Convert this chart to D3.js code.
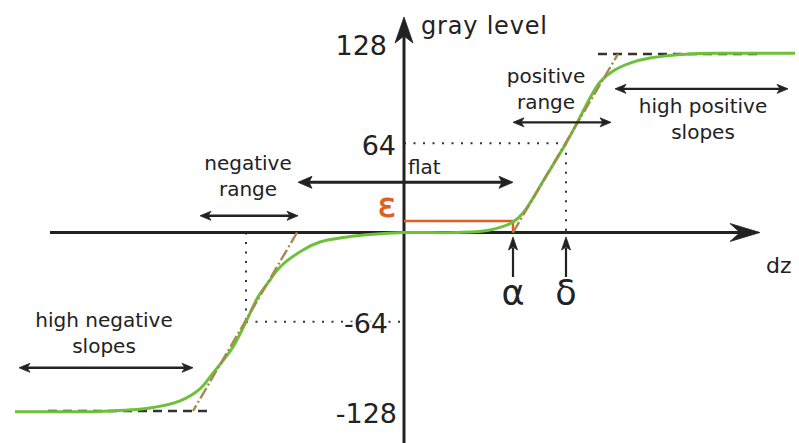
<!DOCTYPE html>
<html>
<head>
<meta charset="utf-8">
<script src="https://cdn.jsdelivr.net/npm/d3@7"></script>
<style>
  html, body { margin: 0; padding: 0; background: #fff; }
  svg { display: block; }
  text { font-family: "DejaVu Sans", sans-serif; fill: #222; }
</style>
</head>
<body>
<div id="chart"></div>
<script>
// ---- data (dz in arbitrary units, gray level in [-128,128]) ----
const curveDz   = [-97.25, -88.5, -76, -63.5, -56, -51, -47.75, -42.75, -39.5, -36.5, -33.5, -31, -25.25, -21, -14.25, -8.5, 0, 13.25, 21.5, 27.25, 29.75, 35.25, 40.5, 43.25, 46.5, 49, 52.25, 56.5, 61.5, 71.5, 79, 97.75];
const curveGray = [-128.5, -128.5, -128.3, -125.9, -120.8, -112.2, -100.8, -82.1, -64, -46.3, -34.1, -24.7, -12.5, -6.8, -3.2, -1.4, 0, 0, 1.8, 7.5, 14, 39.1, 64, 78.5, 96.5, 107.9, 115.8, 121.5, 125.1, 128, 128.5, 128.5];

const tickValues = [128, 64, -64, -128];
const tickLabels = ["128", "64", "-64", "-128"];

const alpha = 27.25, delta = 40.5, epsilon = 8.2, negDelta = -39.5;
const posTangent = [[27.25, 0], [53.5, 128]];
const negTangent = [[-26.75, 0], [-52.75, -128]];
const topPlateau = [[48.5, 128], [88.25, 128]];
const botPlateau = [[-89, -128], [-49.25, -128]];

const rangeLabels = [
  {lines: ["negative", "range"], dz: -39, gray: 45},
  {lines: ["positive", "range"], dz: 35.5, gray: 107},
  {lines: ["high positive", "slopes"], dz: 74.75, gray: 86},
  {lines: ["high negative", "slopes"], dz: -75, gray: -68},
];
const rangeArrows = [
  {from: -51, to: -26.5, gray: 12},       // negative range
  {from: -26.5, to: 27.25, gray: 36},     // flat
  {from: 27.25, to: 51.75, gray: 79},     // positive range
  {from: 52.75, to: 96, gray: 103},       // high positive slopes
  {from: -96.25, to: -52.75, gray: -97},  // high negative slopes
];

// ---- layout ----
const W = 799, H = 443;
const x = d3.scaleLinear().domain([-100, 100]).range([4, 804]);
const y = d3.scaleLinear().domain([-128, 128]).range([411, 54]);

const svg = d3.select("#chart").append("svg").attr("width", W).attr("height", H);

function arrowHead(g, tipX, tipY, angle, len, half, notch, color) {
  const c = Math.cos(angle), s = Math.sin(angle);
  const pt = (a, b) => [tipX + a * c - b * s, tipY + a * s + b * c];
  const p = [pt(0, 0), pt(-len, -half), pt(-len + notch, 0), pt(-len, half)];
  g.append("path").attr("d", "M" + p.map(q => q.join(",")).join("L") + "Z")
    .attr("fill", color).attr("stroke", color).attr("stroke-width", 0.8).attr("stroke-linejoin", "miter");
}

const line = d3.line().x(d => x(d[0])).y(d => y(d[1]));

// dotted guides
const dotted = [
  [[0, 64], [delta, 64]], [[delta, 64], [delta, 0]],
  [[negDelta, 0], [negDelta, -64]], [[negDelta, -64], [0, -64]]
];
svg.append("g").selectAll("path").data(dotted).join("path")
  .attr("d", line).attr("fill", "none").attr("stroke", "#333")
  .attr("stroke-width", 2).attr("stroke-dasharray", "2,7.5");

// dashed plateaus
svg.append("g").selectAll("path").data([topPlateau, botPlateau]).join("path")
  .attr("d", line).attr("fill", "none").attr("stroke", "#333")
  .attr("stroke-width", 2.6).attr("stroke-dasharray", "9,6");

// axes
const axisColor = "#222";
const ax = svg.append("g");
ax.append("line").attr("x1", x(-88.5)).attr("x2", x(87)).attr("y1", y(0)).attr("y2", y(0))
  .attr("stroke", axisColor).attr("stroke-width", 3);
arrowHead(ax, x(89), y(0), 0, 30, 9, 10, axisColor);
ax.append("line").attr("x1", x(0)).attr("x2", x(0)).attr("y1", H).attr("y2", 30)
  .attr("stroke", axisColor).attr("stroke-width", 3);
arrowHead(ax, x(0), 17, -Math.PI / 2, 26, 9, 7, axisColor);

// epsilon bracket
svg.append("path")
  .attr("d", line([[0, epsilon], [alpha, epsilon], [alpha, 0]]))
  .attr("fill", "none").attr("stroke", "#dd5f22").attr("stroke-width", 2.4);

// green curve
svg.append("path")
  .datum(curveDz.map((d, i) => [d, curveGray[i]]))
  .attr("d", d3.line().x(d => x(d[0])).y(d => y(d[1])).curve(d3.curveCatmullRom.alpha(0.5)))
  .attr("fill", "none").attr("stroke", "#6cc13a").attr("stroke-width", 3);

// tangent dash-dot lines
svg.append("g").selectAll("path").data([posTangent, negTangent]).join("path")
  .attr("d", line).attr("fill", "none").attr("stroke", "#a48a4c")
  .attr("stroke-width", 2.4).attr("stroke-dasharray", "12,3,2,3");

// tick labels
const tickDx = {"128": 387, "64": 396, "-64": 388, "-128": 397};
const tickDy = {"128": 1, "64": 12, "-64": 11, "-128": 12};
svg.append("g").selectAll("text").data(tickValues).join("text")
  .attr("x", (d, i) => tickDx[tickLabels[i]])
  .attr("y", (d, i) => y(d) + tickDy[tickLabels[i]])
  .attr("text-anchor", "end").attr("font-size", 27)
  .attr("stroke", "#fff").attr("stroke-width", 5).attr("paint-order", "stroke")
  .text((d, i) => tickLabels[i]);

// axis labels
svg.append("text").attr("x", 421).attr("y", 34).attr("font-size", 24)
  .attr("letter-spacing", 0.8).text("gray level");
svg.append("text").attr("x", 766).attr("y", 273).attr("font-size", 22).text("dz");

// range labels
const rl = svg.append("g");
rangeLabels.forEach(r => {
  r.lines.forEach((t, k) => {
    rl.append("text").attr("x", x(r.dz)).attr("y", y(r.gray) + k * 26)
      .attr("text-anchor", "middle").attr("font-size", 20).text(t);
  });
});
svg.append("text").attr("x", 408).attr("y", 174).attr("font-size", 20).text("flat");

// double arrows
const da = svg.append("g");
rangeArrows.forEach((a, i) => {
  const big = i === 1;
  const len = big ? 14 : 11, half = big ? 6 : 4.5;
  da.append("line").attr("x1", x(a.from) + 4).attr("x2", x(a.to) - 4)
    .attr("y1", y(a.gray)).attr("y2", y(a.gray))
    .attr("stroke", "#222").attr("stroke-width", big ? 3 : 2.4);
  arrowHead(da, x(a.to), y(a.gray), 0, len, half, 3, "#222");
  arrowHead(da, x(a.from), y(a.gray), Math.PI, len, half, 3, "#222");
});

// alpha / delta markers
const markers = [{dz: alpha, label: "α"}, {dz: delta, label: "δ"}];
markers.forEach(m => {
  svg.append("line").attr("x1", x(m.dz)).attr("x2", x(m.dz)).attr("y1", 248).attr("y2", 277)
    .attr("stroke", "#222").attr("stroke-width", 2.2);
  arrowHead(svg, x(m.dz), 237, -Math.PI / 2, 13, 4.5, 3, "#222");
  svg.append("text").attr("x", x(m.dz)).attr("y", 305).attr("text-anchor", "middle")
    .attr("font-size", 35).text(m.label);
});

// epsilon label
svg.append("text").attr("x", 387).attr("y", 217).attr("text-anchor", "middle")
  .attr("font-size", 34).style("fill", "#dd5f22")
  .attr("stroke", "#dd5f22").attr("stroke-width", 0.8).text("ε");
</script>
</body>
</html>
